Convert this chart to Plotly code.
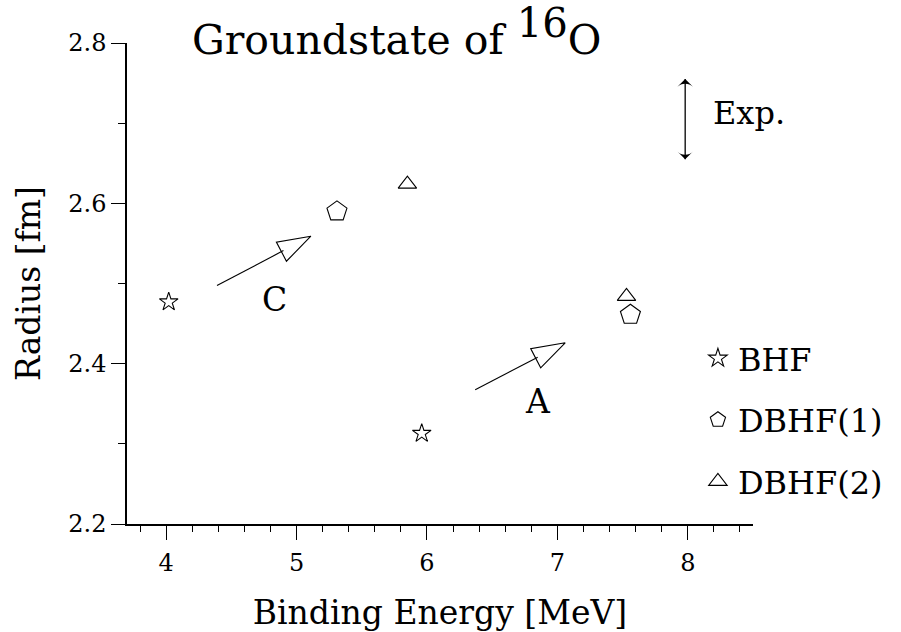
import plotly.graph_objects as go

FONT = "DejaVu Serif"

# ---- data ----
bhf_energy = [4.02, 5.96]
bhf_radius = [2.477, 2.313]
dbhf1_energy = [5.31, 7.56]
dbhf1_radius = [2.590, 2.461]
dbhf2_energy = [5.85, 7.53]
dbhf2_radius = [2.624, 2.484]

exp_energy = 7.98
exp_radius = 2.705
exp_halfwidth = 0.05

arrow_C_energy = [4.39, 5.11]
arrow_C_radius = [2.4975, 2.559]
arrow_A_energy = [6.37, 7.06]
arrow_A_radius = [2.3675, 2.426]

x_ticks = [4, 5, 6, 7, 8]
y_ticks = [2.2, 2.4, 2.6, 2.8]
y_ticktext = ["2.2", "2.4", "2.6", "2.8"]

fig = go.Figure()

def pts(x, y, name, symbol, size):
    fig.add_trace(go.Scatter(
        x=x, y=y, mode="markers", name=name,
        marker=dict(symbol=symbol, size=size, color="black",
                    line=dict(color="black", width=1.1)),
        legendgroup=name,
    ))

pts(bhf_energy, bhf_radius, "BHF", "star-open", 14)
pts(dbhf1_energy, dbhf1_radius, "DBHF(1)", "pentagon-open", 21)
pts(dbhf2_energy, dbhf2_radius, "DBHF(2)", "triangle-up-open", 16)

for ax, ay in [(arrow_C_energy, arrow_C_radius), (arrow_A_energy, arrow_A_radius)]:
    fig.add_trace(go.Scatter(
        x=ax, y=ay, mode="lines+markers", showlegend=False, hoverinfo="skip",
        line=dict(color="black", width=1.1, backoff=31),
        marker=dict(symbol="arrow-open", size=[0, 35], angleref="previous",
                    color="black", opacity=[0, 1],
                    line=dict(color="black", width=1.1)),
    ))

fig.add_trace(go.Scatter(
    x=[exp_energy, exp_energy],
    y=[exp_radius - exp_halfwidth, exp_radius + exp_halfwidth],
    mode="lines+markers", showlegend=False, hoverinfo="skip",
    line=dict(color="black", width=1.3, backoff=0),
    marker=dict(symbol="arrow-wide", size=11, angle=[180, 0], color="black",
                line=dict(width=0)),
))

fig.add_annotation(x=4.83, y=2.48, text="C", showarrow=False,
                   font=dict(family=FONT, size=33, color="black"))
fig.add_annotation(x=6.85, y=2.3525, text="A", showarrow=False,
                   font=dict(family=FONT, size=33, color="black"))
fig.add_annotation(x=8.18, y=2.713, text="Exp.", showarrow=False, xanchor="left",
                   font=dict(family=FONT, size=32, color="black"))

fig.update_layout(
    width=901, height=632,
    margin=dict(l=127, r=148, t=43, b=108),
    paper_bgcolor="white", plot_bgcolor="white",
    font=dict(family=FONT, color="black"),
    title=dict(text='Groundstate of <sup><span style="font-size:140%">16</span></sup>O',
               x=192 / 901, xanchor="left", xref="container",
               y=1 - 40 / 632, yanchor="middle", yref="container",
               font=dict(family=FONT, size=41, color="black"),
               automargin=False),
    showlegend=True,
    legend=dict(x=0.912, xanchor="left", y=0.4015, yanchor="top",
                font=dict(family=FONT, size=32, color="black"),
                bgcolor="rgba(0,0,0,0)", tracegroupgap=17),
    xaxis=dict(
        range=[3.7, 8.5], tickmode="array", tickvals=x_ticks,
        ticks="outside", ticklen=14, tickwidth=1.3, tickcolor="black",
        showline=True, linecolor="black", linewidth=1.5,
        showgrid=False, zeroline=False, ticklabelstandoff=2, automargin=False,
        tickfont=dict(family=FONT, size=24, color="black"),
        minor=dict(tickmode="linear", tick0=3.8, dtick=0.2, ticks="outside",
                   ticklen=6, tickwidth=1, tickcolor="black", showgrid=False),
        title=dict(text="Binding Energy [MeV]", standoff=42,
                   font=dict(family=FONT, size=33, color="black")),
    ),
    yaxis=dict(
        range=[2.2, 2.8], tickmode="array", tickvals=y_ticks, ticktext=y_ticktext,
        ticks="outside", ticklen=14, tickwidth=1.3, tickcolor="black",
        showline=True, linecolor="black", linewidth=1.5,
        showgrid=False, zeroline=False, automargin=False,
        tickfont=dict(family=FONT, size=24, color="black"),
        minor=dict(tickmode="linear", tick0=2.3, dtick=0.1, ticks="outside",
                   ticklen=7, tickwidth=1, tickcolor="black", showgrid=False),
        title=dict(text="Radius [fm]", standoff=18,
                   font=dict(family=FONT, size=33, color="black")),
    ),
)

fig.write_html("out.html")
